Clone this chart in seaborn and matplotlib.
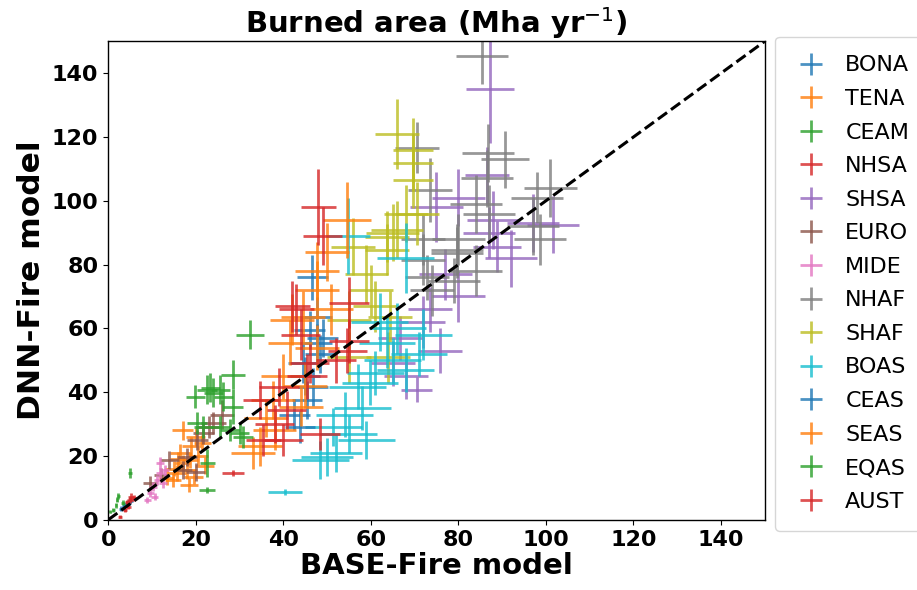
import numpy as np
import pandas as pd
import seaborn as sns
import matplotlib
matplotlib.use("Agg")
import matplotlib.pyplot as plt

# Region names (legend order)
regions = ["BONA", "TENA", "CEAM", "NHSA", "SHSA", "EURO", "MIDE",
           "NHAF", "SHAF", "BOAS", "CEAS", "SEAS", "EQAS", "AUST"]

# BASE-Fire (x), DNN-Fire (y) and their spreads, per region
BONA_x = [3.0, 4.2, 3.6, 5.0]
BONA_y = [3.5, 5.0, 4.2, 6.0]
BONA_xe = [0.6, 0.8, 0.5, 0.7]
BONA_ye = [0.8, 1.0, 0.7, 1.2]

TENA_x = [17, 18, 15.7, 18.7, 16.4, 14.8, 19.5, 13.4, 17, 20.5, 21.5, 19, 16, 18.5, 22, 15, 20]
TENA_y = [17.8, 15.7, 14.7, 18.8, 21, 12.5, 13.5, 13.2, 28, 20, 24, 23, 19, 11, 17, 16, 26]
TENA_xe = [1.8, 2.2, 2, 1.8, 2.2, 1.8, 2.2, 1.7, 2.4, 2.2, 2, 2.2, 1.8, 2, 2.2, 2, 2.2]
TENA_ye = [2.4, 2.8, 2.4, 2.5, 2.8, 2.3, 2.4, 2.3, 3, 2.8, 2.5, 2.8, 2.4, 2.2, 2.6, 2.4, 2.8]

CEAM_x = [2, 1.2, 5, 3.4, 0.5, 2.3, 1.8]
CEAM_y = [6.3, 3.1, 14.7, 5.3, 2.5, 7.5, 4.5]
CEAM_xe = [0.3, 0.3, 0.5, 0.4, 0.2, 0.3, 0.3]
CEAM_ye = [0.8, 0.6, 1.5, 0.8, 0.5, 1.0, 0.7]

NHSA_x = [5, 4.6, 3.9, 5.2, 2.7, 4.3, 6.0]
NHSA_y = [6.3, 4.1, 3.1, 7.3, 1.0, 5.5, 6.8]
NHSA_xe = [0.6, 0.5, 0.5, 0.6, 0.4, 0.5, 0.6]
NHSA_ye = [0.9, 0.8, 0.7, 1.0, 0.5, 0.8, 1.0]

SHSA_x = [87.2, 86.5, 80, 75, 77, 97, 87, 101.6, 70.5, 73.5, 75.8, 72, 66.7, 88.8, 88, 65, 80, 68, 92]
SHSA_y = [135, 108, 101, 98, 77, 93, 90, 92.5, 40.8, 66, 53, 62, 57, 85.6, 94, 49, 70, 45, 82]
SHSA_xe = [5.5, 5, 6, 6, 6, 6, 6, 6, 3.5, 5, 5, 5, 5, 5.5, 6, 5, 6, 5, 6]
SHSA_ye = [17, 9, 9, 11, 8, 9, 8, 9, 4, 7, 7, 8, 7, 8, 9, 7, 8, 7, 9]

EURO_x = [24, 21.7, 23, 20.3, 18, 9.6, 17, 14, 20, 26, 12]
EURO_y = [30.4, 27.2, 29, 25, 19.7, 11.6, 15.7, 18.8, 15, 33, 14]
EURO_xe = [2.8, 2.4, 2.4, 2.4, 2.2, 1.6, 2.2, 2.2, 2.2, 2.8, 1.6]
EURO_ye = [3.5, 3.5, 3.5, 3.2, 2.8, 2.2, 2.8, 2.8, 2.8, 4.5, 2.2]

MIDE_x = [11.9, 11.2, 9.6, 10.3, 8.9, 11.9, 12.6, 10.6, 13]
MIDE_y = [17.8, 12.5, 8.5, 10.3, 6.3, 14.7, 11.6, 7.3, 15.5]
MIDE_xe = [0.9, 0.8, 0.8, 0.9, 0.8, 1.0, 0.9, 0.8, 1.0]
MIDE_ye = [1.8, 1.5, 1.2, 1.4, 1.0, 1.6, 1.5, 1.2, 1.8]

NHAF_x = [85.4, 70.5, 86.8, 90.6, 98, 101, 97, 98.6, 84, 86.5, 87, 79.7, 80, 72, 73.5, 84, 79, 72, 72.8, 79.7, 74]
NHAF_y = [145.5, 116.6, 115, 113, 101, 104, 92, 88, 99, 107, 96, 83.7, 88, 88, 103.5, 78, 75, 81.5, 76, 84.6, 72]
NHAF_xe = [6, 5, 6, 5.5, 6, 6, 6, 6, 6, 6, 6, 6, 6, 5, 5, 6, 6, 5, 5, 6, 5]
NHAF_ye = [9, 8, 9, 9, 8, 9, 9, 8, 9, 9, 9, 8, 8, 8, 10, 8, 7, 8, 7, 8, 8]

SHAF_x = [66, 69.6, 69.6, 70.5, 65, 69.6, 63.7, 66, 68, 59, 56, 63.7, 55, 64.4, 55, 61, 64, 60]
SHAF_y = [121, 116, 106.6, 96, 90, 112, 88.7, 91, 96, 77, 85.6, 84.6, 62.7, 63.7, 51, 67, 51, 72]
SHAF_xe = [5, 4.5, 4.5, 5, 6, 4.5, 5, 6, 5, 5, 5, 5, 5, 5, 5, 5, 5, 5]
SHAF_ye = [11, 10, 9, 10, 9, 9, 8, 9, 9, 9, 9, 8, 9, 8, 8, 8, 8, 8]

BOAS_x = [48.4, 59, 55, 51.4, 59.8, 65, 63.7, 71, 68, 57, 50, 52, 40.4, 54.8, 68, 62, 58, 66, 72, 54, 61]
BOAS_y = [18.8, 25, 27, 29, 43, 50, 55.5, 52, 47, 41.7, 19.7, 21, 8.8, 89, 82, 62, 35, 60, 58, 33, 46]
BOAS_xe = [6.5, 6.5, 6.5, 6.5, 6.5, 6.5, 6.5, 6.5, 6.5, 6.5, 6, 6, 3.8, 5, 6.5, 6.5, 6.5, 6.5, 6.5, 6.5, 6.5]
BOAS_ye = [6, 6, 6, 6, 7, 7, 8, 7, 7, 7, 6, 6, 1, 12, 11, 9, 7, 8, 8, 7, 7]

CEAS_x = [47.7, 46, 49, 44.5, 46.8, 43.8, 45.4, 46.6, 47.7, 48.5, 45, 42.5]
CEAS_y = [55.5, 59.6, 57, 49, 41.7, 29, 37.6, 76, 63.7, 52, 45, 33]
CEAS_xe = [3.5, 3.5, 3.5, 3.5, 3.5, 3.5, 3.5, 3.5, 3.5, 3.5, 3.5, 3.5]
CEAS_ye = [6, 6, 6, 6, 6, 5, 6, 7, 6, 6, 6, 5]

SEAS_x = [54.6, 50, 47.7, 47.7, 44.5, 42, 41.5, 40, 36, 34.7, 44, 37.7, 47.7, 38, 33, 51, 45]
SEAS_y = [94, 84, 78, 72, 63.7, 62.7, 55.5, 45, 32, 23, 35.5, 37.6, 54, 28, 21, 66, 42]
SEAS_xe = [5.5, 5, 5, 5, 5, 5, 5, 5, 5, 5, 5, 5, 5, 5, 5, 5, 5]
SEAS_ye = [12, 9, 9, 9, 8, 8, 7, 7, 6, 6, 6, 6, 7, 6, 5, 8, 7]

EQAS_x = [32.4, 28.5, 23.3, 24, 25.6, 22.6, 19.9, 26.3, 27.8, 30, 25.6, 20.3, 28.5, 30.8, 22.6, 22.6, 21.7]
EQAS_y = [58, 45.5, 41.4, 39.8, 40.8, 40.8, 38.6, 38.6, 28.2, 27.2, 29, 30.4, 35.4, 26, 17.8, 9.4, 29]
EQAS_xe = [3.2, 2.8, 2.2, 2.2, 2.2, 2.2, 2.2, 2.2, 2.2, 2.2, 2.2, 2.2, 2.2, 2.2, 1.7, 1.9, 2.2]
EQAS_ye = [4.5, 4.5, 4.5, 4.5, 4.5, 4.5, 3.5, 4.5, 3.5, 3.5, 3.5, 3.5, 5.5, 3.5, 4.5, 1, 3.5]

AUST_x = [48, 49, 55, 42, 45.4, 54.6, 55, 43, 39, 40.8, 35.4, 48.4, 40, 34.7, 46, 28.6, 52, 38, 44]
AUST_y = [98, 89, 68, 67, 45, 53, 56, 66, 41.7, 34.5, 25, 27, 25, 37.6, 49, 14.7, 50, 30, 58]
AUST_xe = [4, 4.5, 4.5, 4, 4.5, 4.5, 4.5, 4, 4.5, 4.5, 4, 4.5, 4.5, 4, 4.5, 2.5, 4.5, 4.5, 4.5]
AUST_ye = [12, 9, 8, 8, 7, 7, 7, 8, 6, 6, 5, 5, 5, 6, 6, 1, 7, 6, 8]

# 1:1 reference line
one_to_one = [0, 150]

frames = []
for name in regions:
    g = globals()
    frames.append(pd.DataFrame({
        "region": name,
        "base": g[name + "_x"], "dnn": g[name + "_y"],
        "base_err": g[name + "_xe"], "dnn_err": g[name + "_ye"],
    }))
df = pd.concat(frames, ignore_index=True)

sns.set_style("ticks")
plt.rcParams["font.family"] = ["DejaVu Sans"]
plt.rcParams["text.color"] = "black"
plt.rcParams["axes.labelcolor"] = "black"
plt.rcParams["xtick.color"] = "black"
plt.rcParams["ytick.color"] = "black"
palette = sns.color_palette("tab10", 10)

fig = plt.figure(figsize=(9.17, 5.9), dpi=100)
ax = fig.add_axes([0.118, 0.119, 0.716, 0.811])

for i, name in enumerate(regions):
    sub = df[df.region == name]
    ax.errorbar(sub.base, sub.dnn, xerr=sub.base_err, yerr=sub.dnn_err,
                fmt="none", ecolor=palette[i % 10], elinewidth=2.0,
                alpha=0.8, label=name)

sns.lineplot(x=one_to_one, y=one_to_one, ax=ax, color="black",
             linestyle="--", linewidth=2.2, legend=False)

ax.set_xlim(0, 150)
ax.set_ylim(0, 150)
ax.set_xticks(np.arange(0, 141, 20))
ax.set_yticks(np.arange(0, 141, 20))
ax.tick_params(labelsize=16, colors="black")
for lab in ax.get_xticklabels() + ax.get_yticklabels():
    lab.set_fontweight("bold")
for s in ax.spines.values():
    s.set_color("black")
    s.set_linewidth(1.0)

ax.set_xlabel("BASE-Fire model", fontsize=21, fontweight="bold", labelpad=2)
ax.set_ylabel("DNN-Fire model", fontsize=22.5, fontweight="bold", labelpad=4)
ax.set_title(r"Burned area (Mha yr$^{-1}$)", fontsize=21, fontweight="bold")

ax.legend(loc="upper left", bbox_to_anchor=(1.016, 1.01), borderaxespad=0,
          fontsize=16, frameon=True, handlelength=1.5, labelspacing=0.61,
          handletextpad=0.8, borderpad=0.85)

fig.savefig("out.png", dpi=100)
